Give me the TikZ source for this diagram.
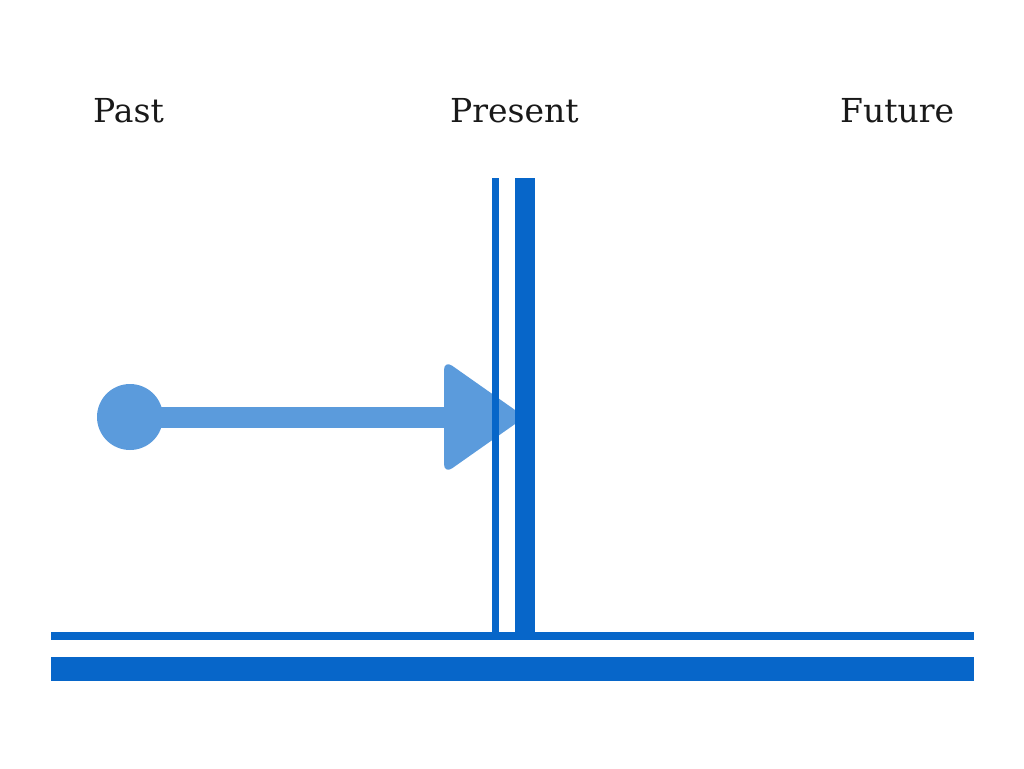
\documentclass[tikz,border=0pt]{standalone}
\usepackage{fontspec}
\setmainfont{DejaVu Serif}
\definecolor{lineblue}{HTML}{0766C9}
\definecolor{arrowblue}{HTML}{5B9BDC}
\begin{document}
\begin{tikzpicture}[x=1pt,y=-1pt,
  label/.style={anchor=base west,inner sep=0pt,font=\fontsize{33}{36}\selectfont,text=black!90},
  bar/.style={fill=lineblue,draw=none},
  arr/.style={fill=arrowblue,draw=none}]
\useasboundingbox[fill=white] (0,0) rectangle (1024,768);
% labels
\node[label] (past) at (93,122) {Past};
\node[label] (present) at (450,122) {Present};
\node[label] (future) at (840,122) {Future};
% arrow
\node[circle,fill=arrowblue,minimum size=66pt,inner sep=0pt] (dot) at (130,417) {};
\coordinate (tip) at (525,417);
\fill[arr] (dot.center) ++(0,-10.5) rectangle (452,427.5);
\path[arr,rounded corners=10pt] (444,360) -- (tip) -- (444,474) -- cycle;
% vertical bars
\fill[bar] (492,178) rectangle (499,636);
\fill[bar] (515,178) rectangle (535,636);
% horizontal bars
\fill[bar] (51,632) rectangle (974,640);
\fill[bar] (51,657) rectangle (974,681);
\end{tikzpicture}
\end{document}
